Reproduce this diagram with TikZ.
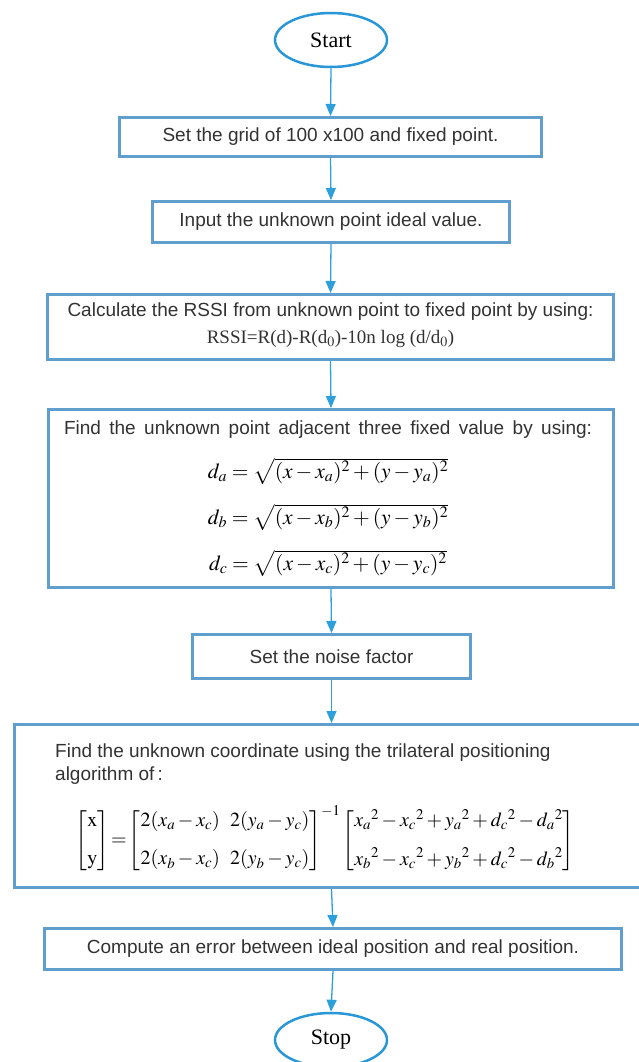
\documentclass[tikz,border=0pt]{standalone}
\usepackage{amsmath}
\usepackage{mathptmx}
\usepackage[no-math]{fontspec}
\setmainfont{Liberation Sans}
\newfontfamily\seriffont{Liberation Serif}
\usetikzlibrary{arrows.meta,shapes.geometric}
\definecolor{boxblue}{RGB}{95,158,205}
\definecolor{ellblue}{RGB}{40,150,215}
\definecolor{arrowblue}{RGB}{45,160,220}
\definecolor{textgray}{RGB}{50,50,50}
\begin{document}
\begin{tikzpicture}[x=1pt,y=-1pt,
  box/.style={draw=boxblue, line width=3pt, inner sep=0pt},
  txt/.style={text=textgray, font=\fontsize{19}{23}\selectfont, inner sep=0pt, align=center},
  mth/.style={text=black, font=\fontsize{21.5}{26}\selectfont, inner sep=0pt},
  mtx/.style={text=black, font=\fontsize{20}{24}\selectfont, inner sep=0pt},
  term/.style={ellipse, draw=ellblue, line width=2.5pt, minimum width=112pt, minimum height=54pt, inner sep=0pt, text=black, font=\seriffont\fontsize{22}{26}\selectfont},
  arr/.style={draw=arrowblue, line width=1.3pt, -{Triangle[length=12pt,width=10pt]}}]
\useasboundingbox (0,0) rectangle (638,1062);
% terminals
\node[term] (start) at (331,40) {Start};
\node[term] (stop) at (331,1040) {Stop};
% boxes
\node[box, minimum width=422pt, minimum height=39pt] (b1) at (330.5,137) {};
\node[txt] (b1t) at (330.5,137) {Set the grid of 100 x100 and fixed point.};
\node[box, minimum width=357pt, minimum height=41pt] (b2) at (331,222) {};
\node[txt] (b2t) at (331,222) {Input the unknown point ideal value.};
\node[box, minimum width=566pt, minimum height=65pt] (b3) at (330.5,327) {};
\node[txt] (b3t) at (330.5,312) {Calculate the RSSI from unknown point to fixed point by using:};
\node[txt, font=\seriffont\fontsize{19}{23}\selectfont] (b3f) at (330.5,339) {RSSI=R(d)-R(d$_0$)-10n log (d/d$_0$)};
\node[box, minimum width=565pt, minimum height=178pt] (b4) at (331,498.5) {};
\node[txt] (b4t) at (328,430) {\makebox[528pt][s]{Find the unknown point adjacent three fixed value by using:}};
\node[mth] (b4a) at (328,471) {$d_a=\sqrt{(x-x_a)^2+(y-y_a)^2}$};
\node[mth] (b4b) at (328,517) {$d_b=\sqrt{(x-x_b)^2+(y-y_b)^2}$};
\node[mth] (b4c) at (328,563) {$d_c=\sqrt{(x-x_c)^2+(y-y_c)^2}$};
\node[box, minimum width=278pt, minimum height=44pt] (b5) at (331.5,656.5) {};
\node[txt] (b5t) at (331.5,656.5) {Set the noise factor};
\node[box, minimum width=634pt, minimum height=163pt] (b6) at (331.5,806) {};
\node[txt, anchor=west, align=left] (b6t) at (55,764) {Find the unknown coordinate using the trilateral positioning\\algorithm of\,:};
\node[mtx] (b6f) at (325,839) {$\begin{bmatrix}\mathrm{x}\\[14pt] \mathrm{y}\end{bmatrix}\!=\!\begin{bmatrix}2(x_a-x_c) & 2(y_a-y_c)\\[14pt] 2(x_b-x_c) & 2(y_b-y_c)\end{bmatrix}^{-1}\begin{bmatrix}x_a{}^2-x_c{}^2+y_a{}^2+d_c{}^2-d_a{}^2\\[14pt] x_b{}^2-x_c{}^2+y_b{}^2+d_c{}^2-d_b{}^2\end{bmatrix}$};
\node[box, minimum width=577pt, minimum height=41pt] (b7) at (333,949) {};
\node[txt] (b7t) at (333,949) {Compute an error between ideal position and real position.};
% connectors
\draw[arr] (start.south) -- (b1.north);
\draw[arr] (b1.south) -- (b2.north);
\draw[arr] (b2.south) -- (b3.north);
\draw[arr] (b3.south) -- (b4.north);
\draw[arr] (b4.south) -- (b5.north);
\draw[arr] (b5.south) -- (b6.north);
\draw[arr] (b6.south) -- (b7.north);
\draw[arr] (b7.south) -- (stop.north);
\end{tikzpicture}
\end{document}
